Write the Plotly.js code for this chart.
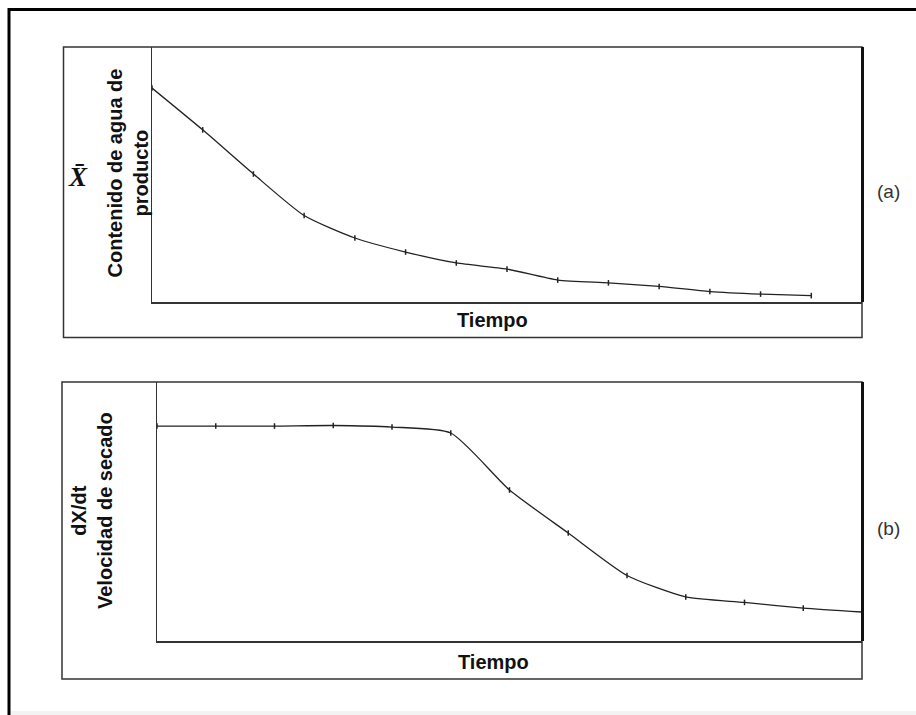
<!DOCTYPE html>
<html>
<head>
<meta charset="utf-8">
<script src="https://cdn.plot.ly/plotly-3.0.1.min.js"></script>
<style>
html,body{margin:0;padding:0;background:#fff;}
#chart{width:916px;height:715px;}
</style>
</head>
<body>
<div id="chart"></div>
<script>
// ---- Data (arbitrary units) ----
// Panel (a): product water content vs time
var timeA = [0, 1, 2, 3, 4, 5, 6, 7, 8, 9, 10, 11, 12, 13];
var moisture = [83.9, 67.5, 50.2, 33.9, 25.1, 19.6, 15.3, 12.9, 8.6, 7.5, 6.1, 4.1, 3.1, 2.5];
// Panel (b): drying rate vs time
var timeB = [0, 1, 2, 3, 4, 5, 6, 7, 8, 9, 10, 11, 12];
var dryingRate = [83.0, 83.0, 83.0, 83.2, 82.6, 80.3, 58.3, 41.7, 25.3, 17.0, 14.9, 12.7, 11.2];

// Text
var yTitleA = "Contenido de agua de<br>producto";
var yTitleB = "dX/dt<br>Velocidad de secado";
var xTitle = "Tiempo";
var labelA = "(a)";
var labelB = "(b)";
var symbolX = "X\u0304";

// ---- Layout helpers (pixel -> paper) ----
var W = 916, H = 715;
function px(x){ return x / W; }
function py(y){ return 1 - y / H; }

var lineCol = "#222";
var boxCol = "#333";

var traceA = {
  x: timeA, y: moisture, xaxis: "x", yaxis: "y",
  type: "scatter", mode: "lines+markers",
  line: {color: lineCol, width: 1.3, shape: "spline", smoothing: 0.6},
  marker: {symbol: "line-ns-open", size: 4, line: {color: lineCol, width: 1.5}},
  cliponaxis: false, hoverinfo: "skip"
};
var traceB = {
  x: timeB, y: dryingRate, xaxis: "x2", yaxis: "y2",
  type: "scatter", mode: "lines+markers",
  line: {color: lineCol, width: 1.3, shape: "spline", smoothing: 0.6},
  marker: {symbol: "line-ns-open", size: 4, line: {color: lineCol, width: 1.5}},
  cliponaxis: false, hoverinfo: "skip"
};

var axBase = {
  showgrid: false, zeroline: false, showticklabels: false, ticks: "",
  showline: true, linecolor: boxCol, linewidth: 1.5, fixedrange: true
};

function ax(extra){ return Object.assign({}, axBase, extra); }

var shapes = [
  // outer frame (left and top visible)
  {type: "line", xref: "paper", yref: "paper", x0: px(9), x1: px(916), y0: py(9.5), y1: py(9.5), line: {color: "#000", width: 3}},
  {type: "line", xref: "paper", yref: "paper", x0: px(9), x1: px(9), y0: py(8), y1: py(715), line: {color: "#000", width: 3}},
  // panel (a) box
  {type: "rect", xref: "paper", yref: "paper", x0: px(63.5), x1: px(862), y0: py(47), y1: py(337.5), line: {color: boxCol, width: 1.5}},
  {type: "line", xref: "paper", yref: "paper", x0: px(862.5), x1: px(862.5), y0: py(47), y1: py(302), line: {color: "#111", width: 3}},
  // panel (b) box
  {type: "rect", xref: "paper", yref: "paper", x0: px(62), x1: px(862), y0: py(382), y1: py(679), line: {color: boxCol, width: 1.5}},
  {type: "line", xref: "paper", yref: "paper", x0: px(862.5), x1: px(862.5), y0: py(382), y1: py(641), line: {color: "#111", width: 3}},
  // light band at bottom
  {type: "rect", xref: "paper", yref: "paper", x0: px(10.5), x1: px(916), y0: py(711), y1: py(715), line: {width: 0}, fillcolor: "#f3f3f3", layer: "below"}
];

var fontBold = {family: "Liberation Sans, Arial, sans-serif", size: 20, color: "#111"};

var annotations = [
  {xref: "paper", yref: "paper", x: px(127.5), y: py(173), text: "<b>" + yTitleA + "</b>", textangle: -90, showarrow: false, font: fontBold, xanchor: "center", yanchor: "middle", align: "center"},
  {xref: "paper", yref: "paper", x: px(78), y: py(177), text: "<b><i>" + symbolX + "</i></b>", showarrow: false, font: {family: "Liberation Serif, Times New Roman, serif", size: 27, color: "#111"}, xanchor: "center", yanchor: "middle"},
  {xref: "paper", yref: "paper", x: px(92), y: py(511), text: "<b>" + yTitleB + "</b>", textangle: -90, showarrow: false, font: fontBold, xanchor: "center", yanchor: "middle", align: "center"},
  {xref: "paper", yref: "paper", x: px(492.5), y: py(320), text: "<b>" + xTitle + "</b>", showarrow: false, font: fontBold, xanchor: "center", yanchor: "middle"},
  {xref: "paper", yref: "paper", x: px(493), y: py(662), text: "<b>" + xTitle + "</b>", showarrow: false, font: fontBold, xanchor: "center", yanchor: "middle"},
  {xref: "paper", yref: "paper", x: px(888), y: py(191), text: labelA, showarrow: false, font: {family: "Liberation Sans, Arial, sans-serif", size: 19, color: "#333"}, xanchor: "center", yanchor: "middle"},
  {xref: "paper", yref: "paper", x: px(888), y: py(528), text: labelB, showarrow: false, font: {family: "Liberation Sans, Arial, sans-serif", size: 19, color: "#333"}, xanchor: "center", yanchor: "middle"}
];

var layout = {
  width: W, height: H,
  margin: {l: 0, r: 0, t: 0, b: 0, pad: 0},
  paper_bgcolor: "#fff", plot_bgcolor: "rgba(0,0,0,0)",
  showlegend: false,
  xaxis: ax({domain: [px(152), px(862)], range: [0, 14], anchor: "y"}),
  yaxis: ax({domain: [py(302), py(47)], range: [0, 100], anchor: "x"}),
  xaxis2: ax({domain: [px(157), px(862)], range: [0, 12], anchor: "y2"}),
  yaxis2: ax({domain: [py(641), py(382)], range: [0, 100], anchor: "x2"}),
  shapes: shapes,
  annotations: annotations
};

Plotly.newPlot("chart", [traceA, traceB], layout, {displayModeBar: false, staticPlot: true});
</script>
</body>
</html>
